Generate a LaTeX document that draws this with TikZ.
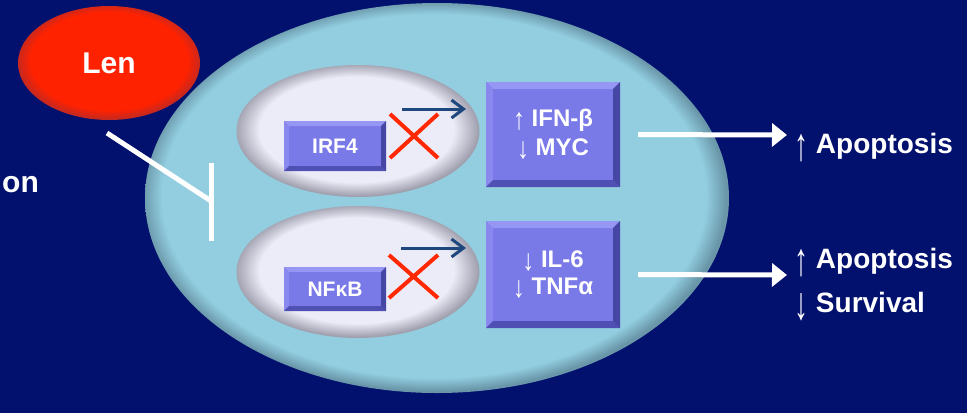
\documentclass[tikz,border=0pt]{standalone}
\usepackage{fontspec}
\usepackage{graphicx}
\setmainfont{Liberation Sans}
\usetikzlibrary{shapes.geometric,arrows.meta}
\definecolor{bg}{RGB}{2,16,110}
\definecolor{cellc}{RGB}{146,206,224}
\definecolor{celledge}{RGB}{105,150,168}
\definecolor{lenc}{RGB}{255,34,0}
\definecolor{lenedge}{RGB}{200,40,30}
\definecolor{nucin}{RGB}{236,236,248}
\definecolor{nucout}{RGB}{160,160,175}
\definecolor{boxc}{RGB}{121,121,232}
\definecolor{boxhi}{RGB}{150,150,245}
\definecolor{boxmid}{RGB}{136,136,238}
\definecolor{boxdk}{RGB}{80,80,180}
\definecolor{boxdk2}{RGB}{70,70,165}
\definecolor{xred}{RGB}{255,40,0}
\definecolor{darr}{RGB}{30,72,125}
\pgfdeclareradialshading{cellshade}{\pgfpoint{-0.5bp}{0.5bp}}{color(0bp)=(cellc); color(23.3bp)=(cellc); color(25bp)=(celledge); color(50bp)=(celledge)}
\pgfdeclareradialshading{nucshade}{\pgfpoint{-0.5bp}{1bp}}{color(0bp)=(nucin); color(20bp)=(nucin); color(25bp)=(nucout); color(50bp)=(nucout)}
\pgfdeclareradialshading{lenshade}{\pgfpoint{0bp}{1.5bp}}{color(0bp)=(lenc); color(21.5bp)=(lenc); color(25bp)=(lenedge); color(50bp)=(lenedge)}
\tikzset{
  bevelbox/.style={rectangle, fill=boxc, inner sep=0pt, text=white, align=center,
    path picture={
      \fill[boxhi] (path picture bounding box.north west) -- (path picture bounding box.north east)
        -- ([shift={(-#1,-#1)}]path picture bounding box.north east) -- ([shift={(#1,-#1)}]path picture bounding box.north west) -- cycle;
      \fill[boxmid] (path picture bounding box.north west) -- ([shift={(#1,-#1)}]path picture bounding box.north west)
        -- ([shift={(#1,#1)}]path picture bounding box.south west) -- (path picture bounding box.south west) -- cycle;
      \fill[boxdk] (path picture bounding box.south west) -- (path picture bounding box.south east)
        -- ([shift={(-#1,#1)}]path picture bounding box.south east) -- ([shift={(#1,#1)}]path picture bounding box.south west) -- cycle;
      \fill[boxdk2] (path picture bounding box.north east) -- (path picture bounding box.south east)
        -- ([shift={(-#1,#1)}]path picture bounding box.south east) -- ([shift={(-#1,-#1)}]path picture bounding box.north east) -- cycle;
    }},
  bevelbox/.default=6pt,
  lbl/.style={text=white, inner sep=0pt, font=\fontsize{28}{34}\selectfont\bfseries},
  wharrow/.style={white, line width=5pt, -{Triangle[length=15pt,width=23pt]}},
  darrow/.style={darr, line width=3pt, -{Straight Barb[length=12pt,width=18pt,line width=3pt]}},
  xmark/.style={xred, line width=4pt},
  inhib/.style={white, line width=5pt},
}
% tall thin arrows for the outer labels
\newcommand{\ua}{\raisebox{-0.28em}{\scalebox{1}[1.65]{↑}}}
\newcommand{\da}{\raisebox{-0.28em}{\scalebox{1}[1.65]{↓}}}
% arrows inside the boxes
\newcommand{\uab}{\raisebox{-0.12em}{\scalebox{1}[1.25]{↑}}}
\newcommand{\dab}{\raisebox{-0.12em}{\scalebox{1}[1.25]{↓}}}
\begin{document}
\begin{tikzpicture}[x=1pt,y=-1pt]
\fill[bg] (0,0) rectangle (967,413);
\useasboundingbox (0,0) rectangle (967,413);
% cell
\node[ellipse, shade, shading=cellshade, minimum width=584pt, minimum height=390pt, inner sep=0pt] (cell) at (437,198) {};
% Len
\node[ellipse, shade, shading=lenshade, minimum width=182pt, minimum height=114pt, inner sep=0pt,
      text=white, font=\fontsize{30}{34}\selectfont\bfseries] (len) at (109,63) {Len};
% nuclei-like ellipses
\node[ellipse, shade, shading=nucshade, minimum width=243pt, minimum height=132pt, inner sep=0pt] (n1) at (358,131) {};
\node[ellipse, shade, shading=nucshade, minimum width=243pt, minimum height=132pt, inner sep=0pt] (n2) at (358,272) {};
% small boxes
\node[bevelbox=5pt, minimum width=102pt, minimum height=50pt, font=\fontsize{21}{24}\selectfont\bfseries] (irf) at (335,146) {IRF4};
\node[bevelbox=5pt, minimum width=102pt, minimum height=44pt, font=\fontsize{21}{24}\selectfont\bfseries] (nfk) at (335,289) {NFκB};
% big boxes
\node[bevelbox=7pt, minimum width=134pt, minimum height=105pt, font=\fontsize{24}{29}\selectfont\bfseries] (b1) at (553,134.5) {\uab\ IFN-β\\\dab\ MYC};
\node[bevelbox=7pt, minimum width=134pt, minimum height=107pt, font=\fontsize{24}{27}\selectfont\bfseries] (b2) at (553,274.5) {\dab\ IL-6\\\dab\ TNFα};
% dark arrows
\coordinate (d1s) at (402,109); \coordinate (d1e) at (466,109);
\coordinate (d2s) at (401,248); \coordinate (d2e) at (466,248);
\draw[darrow] (d1s) -- (d1e);
\draw[darrow] (d2s) -- (d2e);
% red crosses
\coordinate (x1a) at (390,114); \coordinate (x1b) at (438,158);
\coordinate (x2a) at (389,255); \coordinate (x2b) at (438,298);
\draw[xmark] (x1a) -- (x1b) (x1a -| x1b) -- (x1b -| x1a);
\draw[xmark] (x2a) -- (x2b) (x2a -| x2b) -- (x2b -| x2a);
% inhibition
\coordinate (inh1) at (107,133); \coordinate (inh2) at (211,201);
\coordinate (bt) at (211,163); \coordinate (bb) at (211,241);
\draw[inhib] (inh1) -- (inh2);
\draw[inhib] (bt) -- (bb);
% texts
\node[lbl, font=\fontsize{30}{34}\selectfont\bfseries, anchor=base west] (on) at (2,192) {on};
\node[lbl, anchor=base west] (apo1) at (794,153) {\ua\ Apoptosis};
\node[lbl, anchor=base west] (apo2) at (794,268) {\ua\ Apoptosis};
\node[lbl, anchor=base west] (surv) at (794,312) {\da\ Survival};
% white arrows
\coordinate (t1) at (787,135);
\coordinate (t2) at (787,275);
\draw[wharrow, shorten <=18pt] (b1.east) -- (t1);
\draw[wharrow, shorten <=18pt] (b2.east) -- (t2);
\end{tikzpicture}
\end{document}
